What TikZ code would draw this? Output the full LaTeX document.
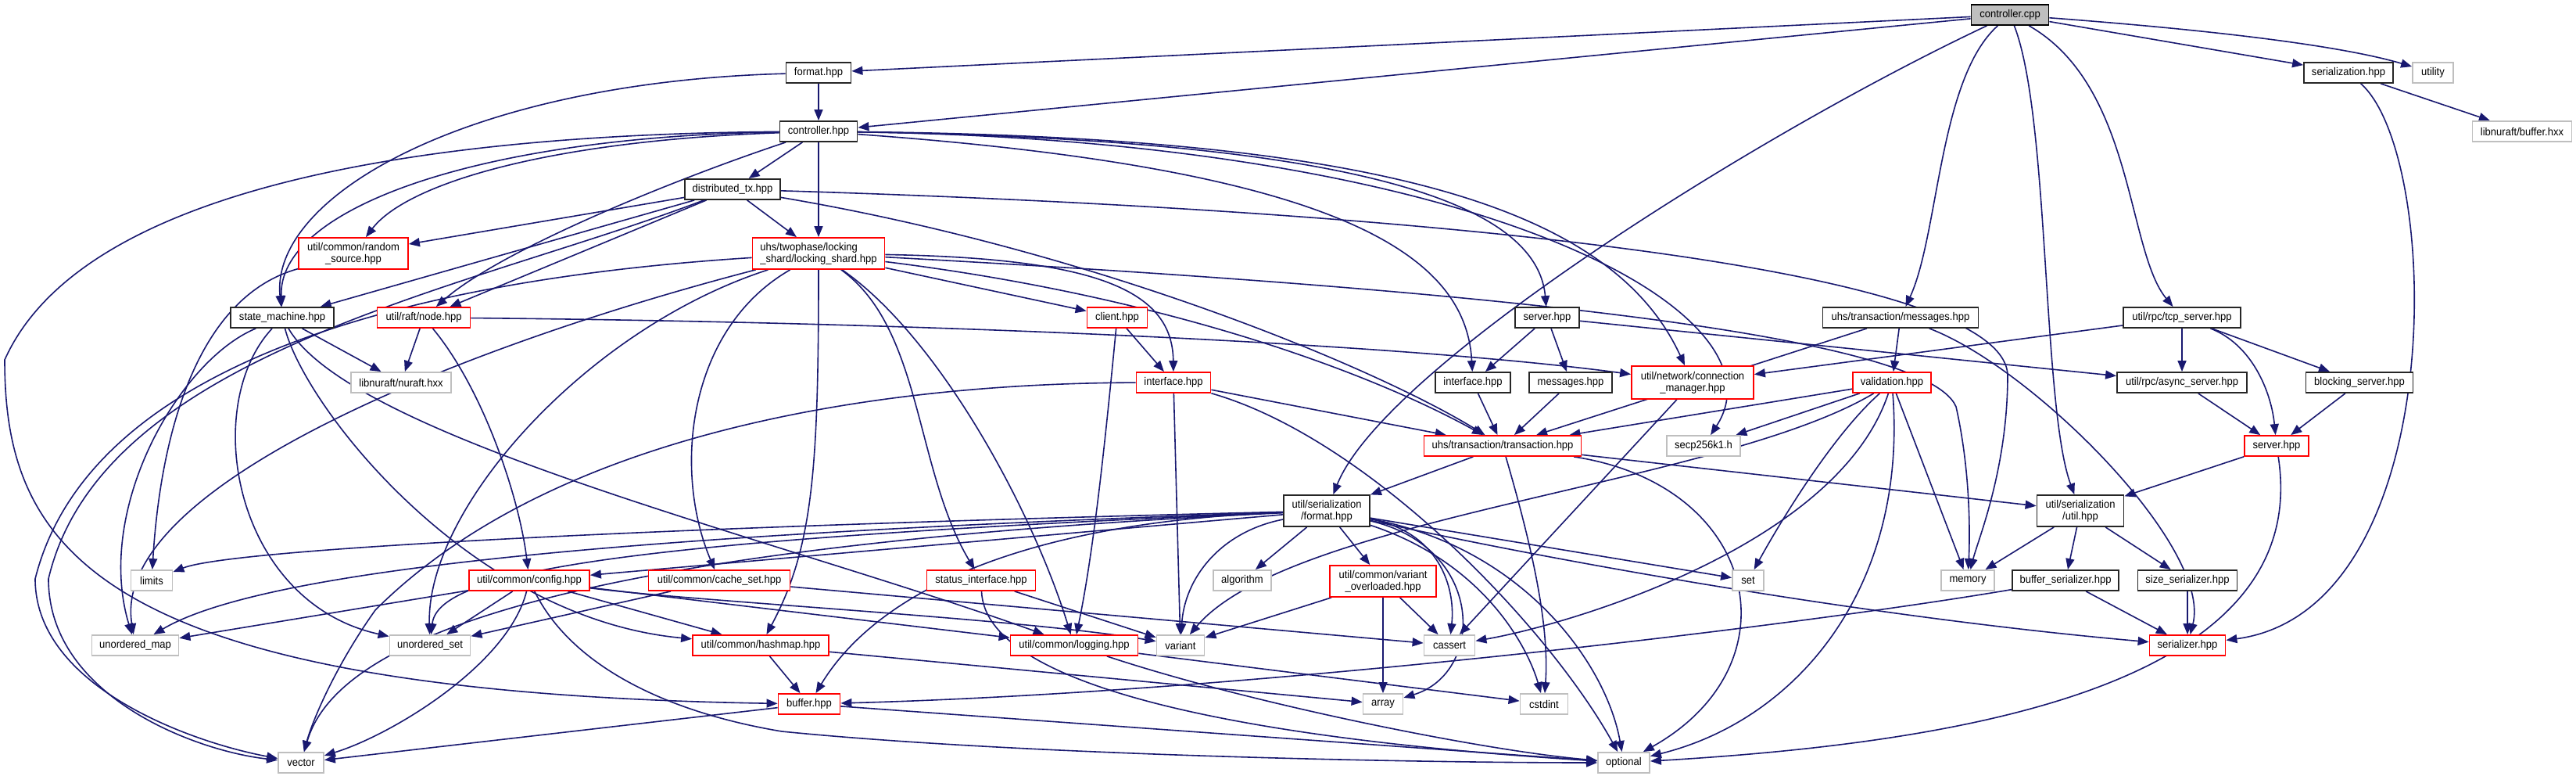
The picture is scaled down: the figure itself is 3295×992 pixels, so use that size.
\documentclass[tikz,border=0pt]{standalone}
\usepackage{fontspec}
\setmainfont{Liberation Sans}[FakeStretch=0.93]
\usetikzlibrary{arrows.meta}
\definecolor{edgeblue}{HTML}{191970}
\definecolor{greyseventyfive}{HTML}{BFBFBF}
\pgfdeclarelayer{bg}
\pgfsetlayers{bg,main}
\begin{document}
\begin{tikzpicture}[x=1pt,y=-1pt,
  box/.style={rectangle, inner sep=0pt, line width=1.8pt, fill=white,
    font=\fontsize{14}{14.8}\selectfont, text=black, align=center, minimum height=26},
  doc/.style={box, draw=black!85},
  trunc/.style={box, draw=red},
  ext/.style={box, draw=greyseventyfive},
  root/.style={box, draw=black, fill=greyseventyfive},
  edge/.style={draw=edgeblue, line width=1.6pt, -{Triangle[length=14pt,width=11pt]}}
]
\useasboundingbox (0,0) rectangle (3295,992);

% ---------------- nodes ----------------
\node[root, minimum width=99] (cpp) at (2571,19) {controller.cpp};
\node[doc, minimum width=83] (fmt) at (1047,93) {format.hpp};
\node[doc, minimum width=99] (ctrl) at (1047,168) {controller.hpp};
\node[doc, minimum width=114] (ser) at (3004,93) {serialization.hpp};
\node[ext, minimum width=52] (utility) at (3112,93) {utility};
\node[ext, minimum width=127] (bufhxx) at (3226,168) {libnuraft/buffer.hxx};
\node[doc, minimum width=122] (dtx) at (937,242) {distributed\_tx.hpp};
\node[trunc, minimum width=169, minimum height=40, align=left] (lsh) at (1047,324) {uhs/twophase/locking\\\_shard/locking\_shard.hpp};
\node[trunc, minimum width=140, minimum height=40] (rnd) at (452,324) {util/common/random\\\_source.hpp};
\node[doc, minimum width=132] (sm) at (361,406) {state\_machine.hpp};
\node[trunc, minimum width=119] (raftnode) at (542,406) {util/raft/node.hpp};
\node[trunc, minimum width=77] (client) at (1429,406) {client.hpp};
\node[doc, minimum width=82] (srv) at (1979,406) {server.hpp};
\node[doc, minimum width=199] (msgs) at (2431,406) {uhs/transaction/messages.hpp};
\node[doc, minimum width=150] (tcp) at (2791,406) {util/rpc/tcp\_server.hpp};
\node[ext, minimum width=128] (nuraft) at (513,489) {libnuraft/nuraft.hxx};
\node[trunc, minimum width=95] (iface) at (1501,489) {interface.hpp};
\node[doc, minimum width=96] (iface2) at (1884,489) {interface.hpp};
\node[doc, minimum width=106] (msg2) at (2009,489) {messages.hpp};
\node[trunc, minimum width=156, minimum height=42] (conn) at (2165,489) {util/network/connection\\\_manager.hpp};
\node[trunc, minimum width=100] (valid) at (2420,489) {validation.hpp};
\node[doc, minimum width=166] (async) at (2791,489) {util/rpc/async\_server.hpp};
\node[doc, minimum width=137] (block) at (3018,489) {blocking\_server.hpp};
\node[trunc, minimum width=201] (tx) at (1922,570) {uhs/transaction/transaction.hpp};
\node[ext, minimum width=94] (secp) at (2179,570) {secp256k1.h};
\node[trunc, minimum width=82] (server2) at (2912,570) {server.hpp};
\node[doc, minimum width=110, minimum height=40] (sfmt) at (1697,653) {util/serialization\\/format.hpp};
\node[doc, minimum width=111, minimum height=40] (sutil) at (2661,653) {util/serialization\\/util.hpp};
\node[ext, minimum width=53] (limits) at (194,742) {limits};
\node[trunc, minimum width=154] (config) at (677,742) {util/common/config.hpp};
\node[trunc, minimum width=181] (cache) at (920,742) {util/common/cache\_set.hpp};
\node[trunc, minimum width=139] (status) at (1255,742) {status\_interface.hpp};
\node[ext, minimum width=74] (algorithm) at (1589,742) {algorithm};
\node[trunc, minimum width=136, minimum height=40] (varov) at (1769,743) {util/common/variant\\\_overloaded.hpp};
\node[ext, minimum width=40] (set) at (2236,742) {set};
\node[ext, minimum width=68] (memory) at (2517,742) {memory};
\node[doc, minimum width=136] (bufser) at (2642,742) {buffer\_serializer.hpp};
\node[doc, minimum width=127] (sizeser) at (2798,742) {size\_serializer.hpp};
\node[ext, minimum width=111] (umap) at (173,825) {unordered\_map};
\node[ext, minimum width=103] (uset) at (550,825) {unordered\_set};
\node[trunc, minimum width=174] (hashmap) at (973,825) {util/common/hashmap.hpp};
\node[trunc, minimum width=163] (logging) at (1374,825) {util/common/logging.hpp};
\node[ext, minimum width=61] (variant) at (1510,825) {variant};
\node[ext, minimum width=65] (cassert) at (1854,825) {cassert};
\node[trunc, minimum width=97] (serializer) at (2798,825) {serializer.hpp};
\node[trunc, minimum width=79] (buffer) at (1035,900) {buffer.hpp};
\node[ext, minimum width=51] (array) at (1769,900) {array};
\node[ext, minimum width=61] (cstdint) at (1975,900) {cstdint};
\node[ext, minimum width=58] (vector) at (385,975) {vector};
\node[ext, minimum width=66] (optional) at (2077,975) {optional};

% ---------------- edges ----------------
\begin{pgfonlayer}{bg}
\fill[white] (0,0) rectangle (3295,992);
% controller.cpp
\draw[edge] (cpp) -- (fmt);
\draw[edge] (cpp) -- (ctrl);
\draw[edge] (cpp) -- (ser);
\draw[edge] (cpp) .. controls (2850,40) and (3000,60) .. (utility);
\draw[edge] (cpp) .. controls (2250,170) and (1770,470) .. (sfmt);
\draw[edge] (cpp) .. controls (2480,100) and (2480,300) .. (msgs);
\draw[edge] (cpp) .. controls (2622,150) and (2612,520) .. (sutil);
\draw[edge] (cpp) .. controls (2730,110) and (2720,320) .. (tcp);
% serialization.hpp
\draw[edge] (ser) -- (bufhxx);
\draw[edge] (ser) .. controls (3125,200) and (3135,780) .. (serializer);
% format.hpp
\draw[edge] (fmt) -- (ctrl);
\draw[edge] (fmt) .. controls (600,105) and (345,250) .. (sm);
% controller.hpp
\draw[edge] (ctrl) -- (dtx);
\draw[edge] (ctrl) -- (lsh);
\draw[edge] (ctrl) .. controls (700,180) and (520,235) .. (rnd);
\draw[edge] (ctrl) .. controls (600,175) and (355,270) .. (sm);
\draw[edge] (ctrl) .. controls (860,230) and (640,320) .. (raftnode);
\draw[edge] (ctrl) .. controls (500,172) and (100,250) .. (6,460) .. controls (6,700) and (120,885) .. (buffer);
\draw[edge] (ctrl) .. controls (1700,178) and (1965,250) .. (srv);
\draw[edge] (ctrl) .. controls (1750,175) and (2060,260) .. (conn);
\draw[edge] (ctrl) .. controls (1900,180) and (2290,400) .. (secp);
\draw[edge] (ctrl) .. controls (1700,215) and (1875,320) .. (iface2);
% distributed_tx
\draw[edge] (dtx) -- (lsh);
\draw[edge] (dtx) -- (rnd);
\draw[edge] (dtx) -- (raftnode);
\draw[edge] (dtx) -- (sm);
\draw[edge] (dtx) .. controls (1700,265) and (2565,330) .. (2568,480) .. controls (2568,600) and (2530,690) .. (memory);
\draw[edge] (dtx) .. controls (1400,320) and (1760,470) .. (tx);
\draw[edge] (dtx) .. controls (600,370) and (130,450) .. (62,740) .. controls (62,890) and (250,960) .. (vector);
% locking_shard
\draw[edge] (lsh) -- (client);
\draw[edge] (lsh) .. controls (1400,330) and (1500,370) .. (iface);
\draw[edge] (lsh) .. controls (1800,365) and (2460,420) .. (2502,520) .. controls (2520,600) and (2520,680) .. (memory);
\draw[edge] (lsh) .. controls (1500,380) and (1760,480) .. (tx);
\draw[edge] (lsh) .. controls (1180,420) and (1170,600) .. (status);
\draw[edge] (lsh) .. controls (880,420) and (860,600) .. (cache);
\draw[edge] (lsh) .. controls (1047,600) and (1040,700) .. (hashmap);
\draw[edge] (lsh) .. controls (1200,430) and (1320,650) .. (logging);
\draw[edge] (lsh) .. controls (600,440) and (140,620) .. (umap);
\draw[edge] (lsh) .. controls (750,420) and (545,650) .. (uset);
\draw[edge] (lsh) .. controls (480,360) and (110,480) .. (45,740) .. controls (45,880) and (250,950) .. (vector);
% random_source
\draw[edge] (rnd) .. controls (250,380) and (205,560) .. (limits);
% state_machine
\draw[edge] (sm) -- (nuraft);
\draw[edge] (sm) .. controls (230,460) and (120,650) .. (umap);
\draw[edge] (sm) .. controls (255,520) and (300,770) .. (uset);
\draw[edge] (sm) .. controls (390,520) and (600,790) .. (hashmap);
\draw[edge] (sm) .. controls (450,560) and (1000,690) .. (logging);
% raft node
\draw[edge] (raftnode) -- (nuraft);
\draw[edge] (raftnode) .. controls (620,500) and (665,640) .. (config);
\draw[edge] (raftnode) .. controls (1200,412) and (1800,440) .. (conn);
% client
\draw[edge] (client) -- (iface);
\draw[edge] (client) .. controls (1415,550) and (1400,700) .. (logging);
% server.hpp (black)
\draw[edge] (srv) -- (iface2);
\draw[edge] (srv) -- (msg2);
\draw[edge] (srv) -- (async);
% uhs/transaction/messages
\draw[edge] (msgs) -- (valid);
\draw[edge] (msgs) -- (tx);
\draw[edge] (msgs) .. controls (2600,470) and (2830,700) .. (serializer);
% tcp_server
\draw[edge] (tcp) -- (conn);
\draw[edge] (tcp) -- (async);
\draw[edge] (tcp) -- (block);
\draw[edge] (tcp) .. controls (2880,440) and (2905,500) .. (server2);
% interface (red)
\draw[edge] (iface) .. controls (1100,490) and (700,560) .. (480,780) .. controls (430,850) and (400,920) .. (vector);
\draw[edge] (iface) -- (variant);
\draw[edge] (iface) -- (tx);
\draw[edge] (iface) .. controls (1750,560) and (1980,800) .. (optional);
% interface / messages (black)
\draw[edge] (iface2) -- (tx);
\draw[edge] (msg2) -- (tx);
% connection manager
\draw[edge] (conn) -- (cassert);
% validation
\draw[edge] (valid) -- (tx);
\draw[edge] (valid) -- (secp);
\draw[edge] (valid) .. controls (2340,560) and (2270,680) .. (set);
\draw[edge] (valid) .. controls (2350,700) and (2000,800) .. (cassert);
\draw[edge] (valid) .. controls (2200,620) and (1650,660) .. (variant);
\draw[edge] (valid) -- (memory);
\draw[edge] (valid) .. controls (2440,750) and (2300,920) .. (optional);
% transaction
\draw[edge] (tx) -- (sfmt);
\draw[edge] (tx) .. controls (1960,700) and (1982,800) .. (cstdint);
\draw[edge] (tx) .. controls (2250,620) and (2300,850) .. (optional);
\draw[edge] (tx) -- (sutil);
% server.hpp (red)
\draw[edge] (server2) -- (sutil);
\draw[edge] (server2) .. controls (2960,880) and (2500,950) .. (optional);
\draw[edge] (async) -- (server2);
\draw[edge] (block) -- (server2);
% serialization util
\draw[edge] (sutil) -- (memory);
\draw[edge] (sutil) -- (bufser);
\draw[edge] (sutil) -- (sizeser);
\draw[edge] (bufser) -- (serializer);
\draw[edge] (bufser) .. controls (2300,800) and (1600,885) .. (buffer);
\draw[edge] (sizeser) -- (serializer);
% serialization format
\draw[edge] (sfmt) .. controls (900,672) and (300,700) .. (limits);
\draw[edge] (sfmt) .. controls (900,680) and (350,720) .. (umap);
\draw[edge] (sfmt) .. controls (800,690) and (560,730) .. (uset);
\draw[edge] (sfmt) -- (config);
\draw[edge] (sfmt) .. controls (700,700) and (430,820) .. (vector);
\draw[edge] (sfmt) .. controls (1300,668) and (1120,760) .. (buffer);
\draw[edge] (sfmt) .. controls (1560,680) and (1515,740) .. (variant);
\draw[edge] (sfmt) -- (algorithm);
\draw[edge] (sfmt) -- (varov);
\draw[edge] (sfmt) -- (set);
\draw[edge] (sfmt) .. controls (1840,680) and (1862,750) .. (cassert);
\draw[edge] (sfmt) .. controls (1900,700) and (1900,860) .. (array);
\draw[edge] (sfmt) .. controls (1900,720) and (1955,830) .. (cstdint);
\draw[edge] (sfmt) .. controls (1950,700) and (2055,850) .. (optional);
\draw[edge] (sfmt) .. controls (2000,720) and (2400,790) .. (serializer);
% config
\draw[edge] (config) -- (umap);
\draw[edge] (config) -- (uset);
\draw[edge] (config) .. controls (650,850) and (500,940) .. (vector);
\draw[edge] (config) -- (hashmap);
\draw[edge] (config) -- (logging);
\draw[edge] (config) .. controls (900,770) and (1300,790) .. (variant);
\draw[edge] (config) .. controls (730,850) and (850,910) .. (1000,935) .. controls (1300,965) and (1800,975) .. (optional);
% cache_set
\draw[edge] (cache) -- (uset);
\draw[edge] (cache) -- (cassert);
% status_interface
\draw[edge] (status) -- (variant);
\draw[edge] (status) .. controls (1260,880) and (1600,945) .. (optional);
% variant_overloaded
\draw[edge] (varov) -- (variant);
\draw[edge] (varov) -- (cassert);
\draw[edge] (varov) -- (array);
% hashmap
\draw[edge] (hashmap) -- (buffer);
\draw[edge] (hashmap) -- (array);
% logging
\draw[edge] (logging) -- (cstdint);
\draw[edge] (logging) .. controls (1600,900) and (1900,960) .. (optional);
% buffer
\draw[edge] (buffer) -- (vector);
\draw[edge] (buffer) -- (optional);
\end{pgfonlayer}
\end{tikzpicture}
\end{document}
